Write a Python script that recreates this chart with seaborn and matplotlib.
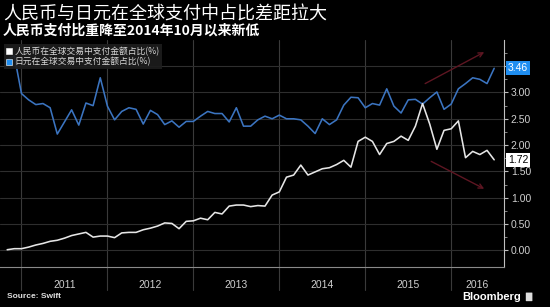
import numpy as np
import pandas as pd
import matplotlib
matplotlib.use('Agg')
import matplotlib.pyplot as plt
import matplotlib.patches as mpatches
import seaborn as sns
from matplotlib.lines import Line2D

# ---- data (monthly, Oct 2010 - Jun 2016) ----
months = pd.period_range('2010-10', '2016-06', freq='M')
rmb_share = [0.01, 0.03, 0.03, 0.06, 0.10, 0.13, 0.17, 0.19, 0.23, 0.28, 0.31, 0.34,
             0.25, 0.27, 0.27, 0.24, 0.33, 0.34, 0.34, 0.39, 0.42, 0.46, 0.52, 0.51,
             0.41, 0.55, 0.56, 0.61, 0.58, 0.72, 0.69, 0.84, 0.86, 0.86, 0.83, 0.85,
             0.84, 1.05, 1.11, 1.39, 1.43, 1.62, 1.43, 1.49, 1.55, 1.57, 1.63, 1.71,
             1.58, 2.07, 2.15, 2.07, 1.82, 2.03, 2.07, 2.17, 2.09, 2.36, 2.79, 2.40,
             1.92, 2.28, 2.31, 2.46, 1.76, 1.88, 1.82, 1.90, 1.72]
jpy_share = [3.62, 3.70, 2.98, 2.86, 2.77, 2.79, 2.71, 2.21, 2.44, 2.67, 2.38, 2.80,
             2.75, 3.28, 2.74, 2.48, 2.64, 2.71, 2.68, 2.40, 2.66, 2.58, 2.39, 2.46,
             2.34, 2.45, 2.45, 2.55, 2.64, 2.60, 2.60, 2.44, 2.71, 2.36, 2.36, 2.48,
             2.55, 2.50, 2.57, 2.50, 2.50, 2.48, 2.36, 2.22, 2.50, 2.39, 2.48, 2.76,
             2.91, 2.90, 2.71, 2.79, 2.76, 3.07, 2.74, 2.61, 2.86, 2.87, 2.78, 2.90,
             3.01, 2.68, 2.78, 3.07, 3.17, 3.28, 3.25, 3.17, 3.46]
series_names = ['人民币在全球交易中支付金额占比(%)', '日元在全球交易中支付金额占比(%)']
years = [2011, 2012, 2013, 2014, 2015, 2016]
y_ticks = [0.0, 0.5, 1.0, 1.5, 2.0, 2.5, 3.0, 3.5]
y_tick_labels = ['0.00', '0.50', '1.00', '1.50', '2.00', '2.50', '3.00', '']

title = '人民币与日元在全球支付中占比差距拉大'
subtitle = '人民币支付比重降至2014年10月以来新低'
source = 'Source: Swift'
brand = 'Bloomberg'

# ---- style ----
WHITE_LINE = '#e6e6e6'
BLUE_LINE = '#3b74c0'
BLUE_BOX = '#1f8ef1'
ARROW = '#5e1622'

sns.set_theme(style='dark', rc={'axes.facecolor': 'black', 'figure.facecolor': 'black'})
plt.rcParams['font.family'] = ['Noto Sans CJK SC', 'DejaVu Sans']

pos = np.asarray(months.year + months.month / 12.0, dtype=float)
df = pd.DataFrame({
    't': np.concatenate([pos, pos]),
    'share': rmb_share + jpy_share,
    'series': [series_names[0]] * len(pos) + [series_names[1]] * len(pos),
})

fig = plt.figure(figsize=(5.5, 3.07), dpi=100, facecolor='black')
ax = fig.add_axes([0.0, 0.130, 0.916, 0.740])
ax.set_facecolor('black')

sns.lineplot(data=df, x='t', y='share', hue='series', hue_order=series_names[::-1],
             palette={series_names[0]: WHITE_LINE, series_names[1]: BLUE_LINE},
             linewidth=1.15, legend=False, ax=ax)

x_left, x_right = 2010.792, 2016.612
ax.set_xlim(x_left, x_right)
ax.set_ylim(-0.32, 4.0)

# year separators extending below the axis
for yr in years:
    ax.axvline(yr, ymin=-0.10, ymax=1, clip_on=False, color='#3a3a3a', lw=0.8, zorder=0.5)

# x ticks: labels centred in the visible part of each year
centers = []
for yr in years:
    lo, hi = max(yr, x_left), min(yr + 1, x_right)
    centers.append((lo + hi) / 2)
ax.set_xticks(centers)
ax.set_xticklabels([str(y) for y in years])
ax.set_xticks(np.arange(2010.75, x_right, 0.25), minor=True)
ax.tick_params(axis='x', which='major', length=0, pad=9, labelsize=7.5, labelcolor='#cfcfcf')
ax.tick_params(axis='x', which='minor', length=3, direction='inout', color='#8a8a8a', width=0.7)
for lab in ax.get_xticklabels():
    lab.set_family(['Liberation Sans', 'DejaVu Sans'])

# y axis on right
ax.yaxis.tick_right()
ax.set_yticks(y_ticks)
ax.set_yticklabels(y_tick_labels)
ax.set_yticks(np.arange(0.25, 4.0, 0.5), minor=True)
ax.tick_params(axis='y', which='major', length=3, width=0.8, color='#bdbdbd', pad=2,
               labelsize=7.5, labelcolor='#d0d0d0', direction='out')
ax.tick_params(axis='y', which='minor', length=2, width=0.6, color='#9a9a9a', direction='out')
for lab in ax.get_yticklabels():
    lab.set_family(['Liberation Sans', 'DejaVu Sans'])

ax.yaxis.grid(True, color='#2e2e2e', lw=0.8)
ax.xaxis.grid(False)
ax.set_xlabel('')
ax.set_ylabel('')

for s in ['left', 'top']:
    ax.spines[s].set_visible(False)
ax.spines['bottom'].set_color('#8a8a8a')
ax.spines['bottom'].set_linewidth(0.8)
ax.spines['right'].set_color('#c0c0c0')
ax.spines['right'].set_linewidth(0.8)

# last-value boxes
ax.annotate(f'{jpy_share[-1]:.2f}', xy=(1, jpy_share[-1]), xycoords=('axes fraction', 'data'),
            xytext=(3, 0), textcoords='offset points', ha='left', va='center',
            fontsize=7.5, color='white', family=['Liberation Sans', 'DejaVu Sans'],
            bbox=dict(boxstyle='square,pad=0.18', fc=BLUE_BOX, ec='none'),
            annotation_clip=False, zorder=10)
ax.annotate(f'{rmb_share[-1]:.2f}', xy=(1, rmb_share[-1]), xycoords=('axes fraction', 'data'),
            xytext=(3, 0), textcoords='offset points', ha='left', va='center',
            fontsize=7.5, color='black', family=['Liberation Sans', 'DejaVu Sans'],
            bbox=dict(boxstyle='square,pad=0.18', fc='white', ec='none'),
            annotation_clip=False, zorder=10)

# trend arrows
arrow_kw = dict(arrowstyle='->', color=ARROW, lw=1.0, mutation_scale=8)
ax.annotate('', xy=(0.966, 0.952), xytext=(0.839, 0.802), xycoords='axes fraction',
            arrowprops=arrow_kw)
ax.annotate('', xy=(0.966, 0.339), xytext=(0.851, 0.471), xycoords='axes fraction',
            arrowprops=arrow_kw)

# legend
handles = [Line2D([], [], marker='s', ls='', color=c, markersize=4.5, markeredgecolor='white',
                  markeredgewidth=0.4)
           for c in ['white', BLUE_BOX]]
leg = ax.legend(handles, series_names, loc='upper left', bbox_to_anchor=(0.008, 0.98),
                frameon=True, facecolor='#1d1d1d', edgecolor='none', framealpha=0.92,
                fancybox=False, fontsize=6.3, labelcolor='#d8d8d8', handlelength=0.6,
                handletextpad=0.3, labelspacing=0.12, borderpad=0.3, borderaxespad=0)
leg.set_zorder(20)

# titles
fig.text(0.005, 0.954, title, fontsize=13, color='white', va='center', ha='left')
fig.text(0.005, 0.902, subtitle, fontsize=10, color='white', va='center', ha='left',
         weight='bold')

fig.text(0.013, 0.033, source, fontsize=6, color='#e0e0e0', va='center', ha='left',
         weight='bold', family=['Liberation Sans', 'DejaVu Sans'])
fig.text(0.948, 0.033, brand, fontsize=8, color='white', va='center', ha='right',
         weight='bold', family=['Liberation Sans', 'DejaVu Sans'])
fig.patches.append(mpatches.FancyBboxPatch((0.957, 0.020), 0.010, 0.026,
                                           boxstyle='round,pad=0.001', fc='#dddddd', ec='none',
                                           transform=fig.transFigure, figure=fig))

fig.savefig('out.png', dpi=100, facecolor='black')
